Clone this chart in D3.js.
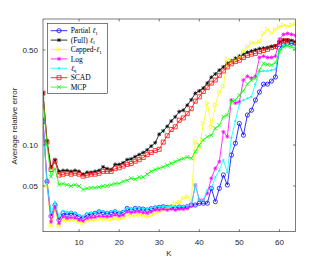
<!DOCTYPE html>
<html>
<head>
<meta charset="utf-8">
<script src="https://cdn.jsdelivr.net/npm/d3@7"></script>
<style>
  body { margin: 0; background: #fff; }
  svg { display: block; }
  .tick-label { font-family: "Liberation Sans", Arial, sans-serif; font-size: 8px; fill: #262626; }
  .legend-text { font-family: "Liberation Serif", "DejaVu Serif", serif; font-size: 7.5px; fill: #000; }
</style>
</head>
<body>
<div id="main"></div>
<script>
// K on the x axis, one value per K
var K = d3.range(1, 65);

var partialL1 = [0.148, 0.054, 0.030, 0.0362, 0.0281, 0.0315, 0.0306, 0.0315, 0.0310, 0.0297,
  0.0289, 0.0306, 0.0310, 0.0315, 0.0323, 0.0318, 0.0315, 0.0318, 0.0323, 0.0315,
  0.0320, 0.0342, 0.0333, 0.0342, 0.0340, 0.0338, 0.0333, 0.0340, 0.0345, 0.0348,
  0.0352, 0.0348, 0.0350, 0.0345, 0.0350, 0.0348, 0.0352, 0.0362, 0.0362, 0.0373,
  0.0373, 0.0373, 0.0480, 0.0383, 0.0480, 0.0602, 0.0508, 0.0844, 0.103, 0.144,
  0.118, 0.166, 0.180, 0.214, 0.245, 0.280, 0.280, 0.295, 0.316, 0.514,
  0.544, 0.560, 0.560, 0.560];

var fullL1 = [0.241, 0.107, 0.069, 0.078, 0.064, 0.065, 0.065, 0.064, 0.065, 0.064,
  0.061, 0.063, 0.063, 0.064, 0.065, 0.069, 0.067, 0.066, 0.072, 0.072,
  0.074, 0.078, 0.079, 0.082, 0.085, 0.088, 0.092, 0.098, 0.104, 0.120,
  0.127, 0.137, 0.150, 0.161, 0.176, 0.180, 0.196, 0.215, 0.240, 0.250,
  0.262, 0.285, 0.315, 0.333, 0.355, 0.375, 0.400, 0.415, 0.434, 0.450,
  0.465, 0.480, 0.490, 0.500, 0.510, 0.515, 0.520, 0.530, 0.535, 0.570,
  0.590, 0.592, 0.585, 0.570];

var cappedL1 = [0.140, 0.050, 0.0255, 0.0333, 0.0254, 0.0281, 0.0279, 0.0281, 0.0284, 0.0272,
  0.0266, 0.0279, 0.0281, 0.0281, 0.0287, 0.0285, 0.0281, 0.0285, 0.0289, 0.0285,
  0.0290, 0.0306, 0.0301, 0.0306, 0.0306, 0.0301, 0.0297, 0.0306, 0.0315, 0.0323,
  0.0335, 0.0342, 0.0355, 0.0373, 0.0380, 0.0406, 0.0417, 0.0394, 0.106, 0.0946,
  0.144, 0.203, 0.136, 0.197, 0.246, 0.270, 0.430, 0.410, 0.420, 0.440,
  0.485, 0.528, 0.565, 0.560, 0.575, 0.663, 0.709, 0.663, 0.709, 0.741,
  0.763, 0.741, 0.763, 0.776];

var logPenalty = [0.155, 0.053, 0.0272, 0.035, 0.0266, 0.0297, 0.0289, 0.0293, 0.0291, 0.0281,
  0.0277, 0.0289, 0.0293, 0.0295, 0.0300, 0.0299, 0.0297, 0.0300, 0.0306, 0.0300,
  0.0305, 0.0323, 0.0318, 0.0323, 0.0323, 0.0318, 0.0315, 0.0323, 0.0333, 0.0333,
  0.0338, 0.0333, 0.0338, 0.0333, 0.0338, 0.0338, 0.0342, 0.0356, 0.0508, 0.0394,
  0.0394, 0.0442, 0.0569, 0.0674, 0.0754, 0.125, 0.115, 0.214, 0.203, 0.208,
  0.300, 0.320, 0.310, 0.320, 0.440, 0.450, 0.440, 0.440, 0.450, 0.600,
  0.650, 0.660, 0.650, 0.640];

var lq = [0.140, 0.052, 0.0318, 0.0383, 0.0297, 0.0329, 0.0323, 0.0323, 0.0318, 0.0306,
  0.0301, 0.0315, 0.0318, 0.0318, 0.0329, 0.0325, 0.0320, 0.0325, 0.0330, 0.0320,
  0.0325, 0.0345, 0.0338, 0.0345, 0.0345, 0.0340, 0.0338, 0.0345, 0.0350, 0.0352,
  0.0355, 0.0352, 0.0355, 0.0350, 0.0355, 0.0355, 0.0358, 0.0360, 0.0508, 0.0394,
  0.0394, 0.0467, 0.0480, 0.0580, 0.0650, 0.0776, 0.0630, 0.113, 0.150, 0.200,
  0.214, 0.220, 0.226, 0.280, 0.345, 0.350, 0.350, 0.355, 0.360, 0.500,
  0.544, 0.560, 0.570, 0.553];

var scad = [0.241, 0.105, 0.066, 0.076, 0.060, 0.061, 0.062, 0.061, 0.062, 0.061,
  0.059, 0.060, 0.061, 0.061, 0.062, 0.064, 0.064, 0.064, 0.067, 0.068,
  0.070, 0.072, 0.073, 0.076, 0.078, 0.081, 0.085, 0.088, 0.091, 0.093,
  0.105, 0.117, 0.130, 0.136, 0.152, 0.158, 0.170, 0.185, 0.210, 0.226,
  0.247, 0.265, 0.285, 0.300, 0.325, 0.350, 0.375, 0.395, 0.410, 0.420,
  0.440, 0.455, 0.465, 0.472, 0.485, 0.495, 0.505, 0.520, 0.530, 0.565,
  0.585, 0.585, 0.578, 0.565];

var mcp = [0.227, 0.100, 0.0585, 0.067, 0.051, 0.052, 0.051, 0.050, 0.051, 0.050,
  0.047, 0.048, 0.0485, 0.0485, 0.049, 0.050, 0.050, 0.051, 0.052, 0.052,
  0.054, 0.055, 0.057, 0.056, 0.058, 0.058, 0.061, 0.064, 0.066, 0.0674,
  0.069, 0.071, 0.0734, 0.0754, 0.0776, 0.0796, 0.0816, 0.0798, 0.0893, 0.100,
  0.109, 0.115, 0.118, 0.133, 0.140, 0.1615, 0.166, 0.208, 0.214, 0.233,
  0.250, 0.280, 0.300, 0.310, 0.356, 0.398, 0.390, 0.387, 0.403, 0.485,
  0.528, 0.535, 0.525, 0.514];

var xTicks = [10, 20, 30, 40, 50, 60];
var yTicks = [0.05, 0.1, 0.5];
var yTickLabels = ["0.05", "0.10", "0.50"];

// legend order = draw order
var series = [
  { name: ["Partial ", "1"], values: partialL1, color: "#0000ff", marker: "circle" },
  { name: ["(Full) ", "1"], values: fullL1, color: "#000000", marker: "star" },
  { name: ["Capped-", "1"], values: cappedL1, color: "#ffff00", marker: "triangleRight" },
  { name: ["Log"], values: logPenalty, color: "#ff00ff", marker: "star" },
  { name: ["", "q"], values: lq, color: "#00ffff", marker: "dot" },
  { name: ["SCAD"], values: scad, color: "#ff0000", marker: "square" },
  { name: ["MCP"], values: mcp, color: "#00ff00", marker: "cross" }
];

var width = 327, height = 261;
var plot = { left: 43, right: 295.5, top: 19, bottom: 231.7 };

var svg = d3.select('#main')
  .append('svg')
  .attr("width", width)
  .attr("height", height);

var x = d3.scaleLinear().domain([1, 64]).range([plot.left, plot.right]);
var y = d3.scaleLog().domain([0.02305, 0.844]).range([plot.bottom, plot.top]);

var line = d3.line()
  .x(function(d, i) { return x(K[i]); })
  .y(function(d) { return y(d); })
  .curve(d3.curveLinear);

// marker shapes, roughly like the matlab ones
function markerPath(type, r) {
  switch (type) {
    case "circle":
      return d3.symbol().type(d3.symbolCircle).size(Math.PI * r * r)();
    case "square":
      return "M" + (-r) + "," + (-r) + "H" + r + "V" + r + "H" + (-r) + "Z";
    case "triangleRight":
      return "M" + (-r) + "," + (-r) + "L" + r + ",0L" + (-r) + "," + r + "Z";
    case "cross":
      return "M" + (-r) + "," + (-r) + "L" + r + "," + r + "M" + (-r) + "," + r + "L" + r + "," + (-r);
    case "star":
      var a = r * 0.75;
      return "M" + (-r) + ",0H" + r + "M0," + (-r) + "V" + r +
        "M" + (-a) + "," + (-a) + "L" + a + "," + a + "M" + (-a) + "," + a + "L" + a + "," + (-a);
    case "dot":
      return d3.symbol().type(d3.symbolCircle).size(Math.PI * 0.8 * 0.8)();
  }
}

function drawMarker(g, s) {
  var filled = s.marker === "dot";
  return g.append("path")
    .attr("d", markerPath(s.marker, s.marker === "circle" ? 2.1 : 2))
    .attr("fill", filled ? s.color : "none")
    .attr("stroke", s.color)
    .attr("stroke-width", 0.75);
}

// axes box
svg.append("rect")
  .attr("x", plot.left).attr("y", plot.top)
  .attr("width", plot.right - plot.left).attr("height", plot.bottom - plot.top)
  .attr("fill", "#fff");

var clip = svg.append("clipPath").attr("id", "clip")
  .append("rect")
  .attr("x", plot.left).attr("y", plot.top)
  .attr("width", plot.right - plot.left).attr("height", plot.bottom - plot.top);

var lines = svg.append("g").attr("clip-path", "url(#clip)");

series.forEach(function(s) {
  var g = lines.append("g");
  g.append("path")
    .attr("d", line(s.values))
    .attr("fill", "none")
    .attr("stroke", s.color)
    .attr("stroke-width", 0.8);

  g.selectAll(".m")
    .data(s.values)
    .enter().append("g")
    .attr("transform", function(d, i) { return "translate(" + x(K[i]) + "," + y(d) + ")"; })
    .each(function() { drawMarker(d3.select(this), s); });
});

// frame + inward ticks
var axisColor = "#262626";
svg.append("rect")
  .attr("x", plot.left).attr("y", plot.top)
  .attr("width", plot.right - plot.left).attr("height", plot.bottom - plot.top)
  .attr("fill", "none").attr("stroke", axisColor).attr("stroke-width", 0.6);

var tickLen = 2.5;
xTicks.forEach(function(t) {
  svg.append("line").attr("x1", x(t)).attr("x2", x(t))
    .attr("y1", plot.bottom).attr("y2", plot.bottom - tickLen)
    .attr("stroke", axisColor).attr("stroke-width", 0.6);
  svg.append("line").attr("x1", x(t)).attr("x2", x(t))
    .attr("y1", plot.top).attr("y2", plot.top + tickLen)
    .attr("stroke", axisColor).attr("stroke-width", 0.6);
  svg.append("text").attr("class", "tick-label")
    .attr("x", x(t)).attr("y", 244.5)
    .attr("text-anchor", "middle")
    .text(t);
});

yTicks.forEach(function(t, i) {
  svg.append("line").attr("x1", plot.left).attr("x2", plot.left + tickLen)
    .attr("y1", y(t)).attr("y2", y(t))
    .attr("stroke", axisColor).attr("stroke-width", 0.6);
  svg.append("line").attr("x1", plot.right).attr("x2", plot.right - tickLen)
    .attr("y1", y(t)).attr("y2", y(t))
    .attr("stroke", axisColor).attr("stroke-width", 0.6);
  svg.append("text").attr("class", "tick-label")
    .attr("x", 38).attr("y", y(t) + 2.8)
    .attr("text-anchor", "end")
    .text(yTickLabels[i]);
});

// axis labels
svg.append("text").attr("class", "tick-label")
  .attr("x", 169).attr("y", 255.5)
  .attr("text-anchor", "middle")
  .text("K");

svg.append("text").attr("class", "tick-label")
  .attr("transform", "translate(17," + 126 + ") rotate(-90)")
  .attr("text-anchor", "middle")
  .text("Average relative error");

// legend
var legend = svg.append("g");
legend.append("rect")
  .attr("x", 47.3).attr("y", 23.3)
  .attr("width", 60).attr("height", 70)
  .attr("fill", "#fff").attr("stroke", axisColor).attr("stroke-width", 0.6);

series.forEach(function(s, i) {
  var ry = 30.7 + i * 9.4;
  var row = legend.append("g");
  row.append("line")
    .attr("x1", 50.7).attr("x2", 67.3)
    .attr("y1", ry).attr("y2", ry)
    .attr("stroke", s.color).attr("stroke-width", 0.8);
  drawMarker(row.append("g").attr("transform", "translate(59," + ry + ")"), s);

  var txt = row.append("text").attr("class", "legend-text")
    .attr("x", 70.7).attr("y", ry + 2.6);
  txt.append("tspan").text(s.name[0]);
  if (s.name.length > 1) {
    txt.append("tspan").attr("font-style", "italic").text("\u2113");
    txt.append("tspan").attr("font-size", "5px").attr("dy", 1.5).text(s.name[1]);
  }
});
</script>
</body>
</html>
